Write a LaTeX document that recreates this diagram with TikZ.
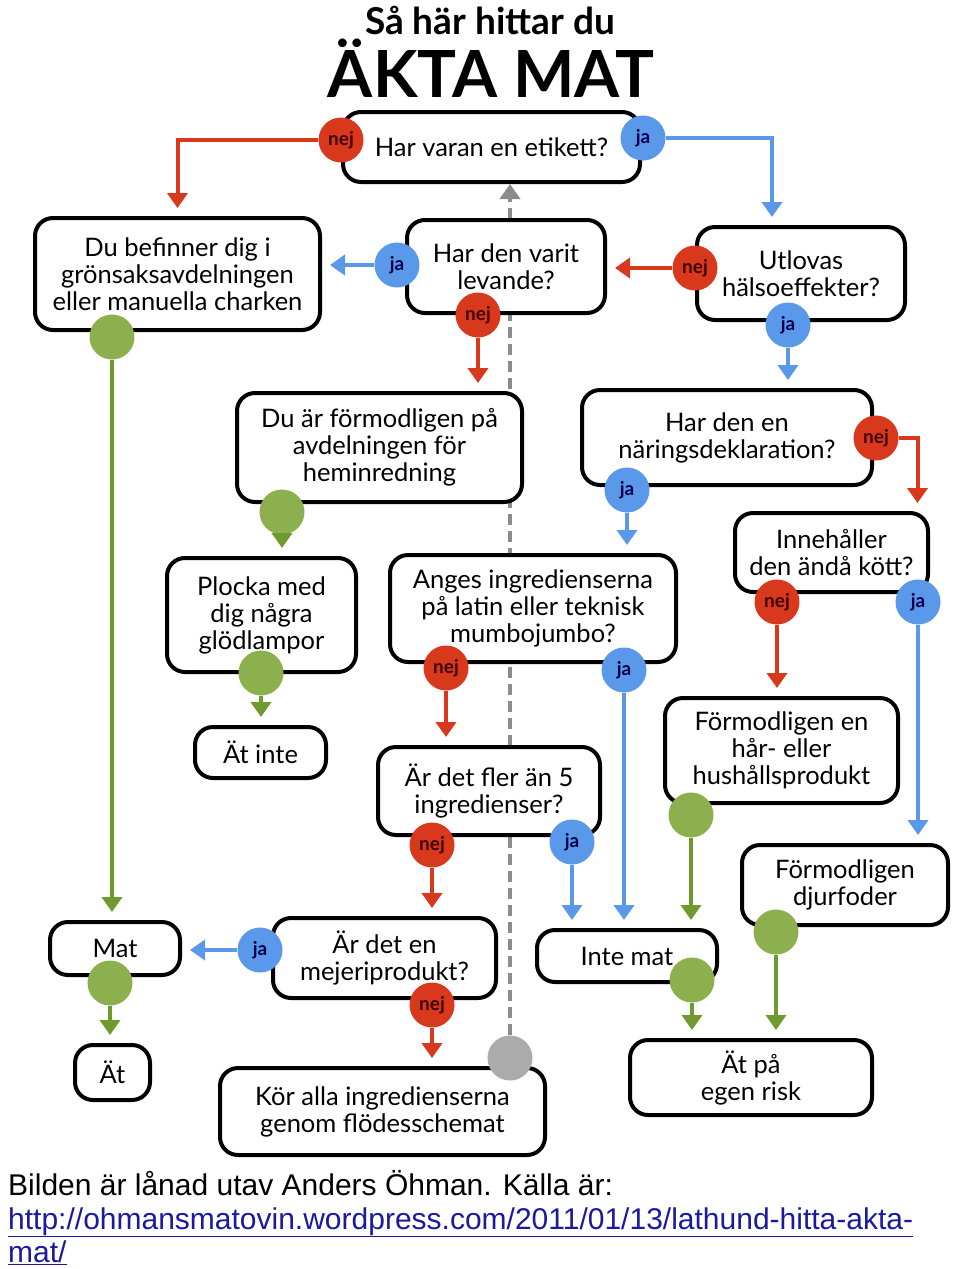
\documentclass[tikz,border=0pt]{standalone}
\usepackage{fontspec}
\setmainfont{Lato}
\newfontfamily\footfont{Liberation Sans}
\usetikzlibrary{arrows.meta, positioning, calc}

\definecolor{nejred}{HTML}{D8381C}
\definecolor{jablue}{HTML}{5A98EA}
\definecolor{dotgreen}{HTML}{8CB04E}
\definecolor{arrgreen}{HTML}{6F9A30}
\definecolor{linkblue}{HTML}{1A1AA0}

\pgfdeclarelayer{background}
\pgfsetlayers{background,main}

\begin{document}
\begin{tikzpicture}[x=1pt,y=-1pt,
    box/.style={draw=black, line width=4pt, rounded corners=18pt, fill=white,
      align=center, inner sep=0pt, font=\fontsize{25.5}{27}\selectfont},
    nejdot/.style={ellipse dot, fill=nejred, text=black!75!red},
    jadot/.style={ellipse dot, fill=jablue, text=blue!30!black},
    okdot/.style={ellipse dot, fill=dotgreen},
    ellipse dot/.style={circle, minimum size=45pt, inner sep=0pt,
      font=\bfseries\fontsize{19}{19}\selectfont},
    nejarr/.style={draw=nejred, line width=4pt, shorten >=8pt,
      -{Triangle[width=20pt,length=15pt]}},
    jaarr/.style={nejarr, draw=jablue},
    okarr/.style={nejarr, draw=arrgreen},
  ]
  \useasboundingbox (0,0) rectangle (960,1269);

  % rubrik
  \node[font=\bfseries\fontsize{37}{37}\selectfont] (rubrik1) at (490,20) {Så här hittar du};
  \node[font=\bfseries\fontsize{65}{65}\selectfont] (rubrik2) at (491,68) {ÄKTA MAT};

  % rutor
  \node[box, minimum width=297pt, minimum height=70pt] (etikett) at (491.5,147) {Har varan en etikett?};
  \node[box, minimum width=285pt, minimum height=112pt] (gron) at (177.5,274) {Du befinner dig i\\grönsaksavdelningen\\eller manuella charken};
  \node[box, minimum width=198pt, minimum height=93pt] (levande) at (506,266.5) {Har den varit\\levande?};
  \node[box, minimum width=208pt, minimum height=93pt] (halsa) at (801,273.5) {Utlovas\\hälsoeffekter?};
  \node[box, minimum width=285pt, minimum height=109pt] (hem) at (379.5,447.5) {Du är förmodligen på\\avdelningen för\\heminredning};
  \node[box, minimum width=290pt, minimum height=95pt] (naring) at (727,437.5) {Har den en\\näringsdeklaration?};
  \node[box, minimum width=189pt, minimum height=114pt] (plocka) at (261.5,615) {Plocka med\\dig några\\glödlampor};
  \node[box, minimum width=131pt, minimum height=51pt] (atinte) at (260.5,752.5) {Ät inte};
  \node[box, minimum width=286pt, minimum height=107pt] (anges) at (533,608.5) {Anges ingredienserna\\på latin eller teknisk\\mumbojumbo?};
  \node[box, minimum width=193pt, minimum height=79pt] (kott) at (831.5,552.5) {Innehåller\\den ändå kött?};
  \node[box, minimum width=233pt, minimum height=105pt] (hushall) at (781.5,750.5) {Förmodligen en\\hår- eller\\hushållsprodukt};
  \node[box, minimum width=222pt, minimum height=88pt] (fler) at (489,791) {Är det fler än 5\\ingredienser?};
  \node[box, minimum width=206pt, minimum height=80pt] (djur) at (845,885) {Förmodligen\\djurfoder};
  \node[box, minimum width=130pt, minimum height=53pt] (mat) at (115,948.5) {Mat};
  \node[box, minimum width=223pt, minimum height=80pt] (mejeri) at (384.5,958) {Är det en\\mejeriprodukt?};
  \node[box, minimum width=180pt, minimum height=52pt] (intemat) at (627,956) {Inte mat};
  \node[box, minimum width=75pt, minimum height=55pt] (at) at (112.5,1072.5) {Ät};
  \node[box, minimum width=325pt, minimum height=87pt] (kor) at (382.5,1111.5) {Kör alla ingredienserna\\genom flödesschemat};
  \node[box, minimum width=242pt, minimum height=75pt] (egen) at (751,1077.5) {Ät på\\egen risk};

  % svar
  \node[nejdot] (etikett-nej) at (341,140) {nej};
  \node[jadot] (etikett-ja) at (643,138) {ja};
  \node[okdot] (gron-ok) at (112,337) {};
  \node[jadot] (levande-ja) at (397,265) {ja};
  \node[nejdot] (levande-nej) at (478,315) {nej};
  \node[nejdot] (halsa-nej) at (695,268) {nej};
  \node[jadot] (halsa-ja) at (788,325) {ja};
  \node[okdot] (hem-ok) at (282,512) {};
  \node[nejdot] (naring-nej) at (876,438) {nej};
  \node[jadot] (naring-ja) at (627,490) {ja};
  \node[okdot] (plocka-ok) at (261,673) {};
  \node[nejdot] (anges-nej) at (446,668) {nej};
  \node[jadot] (anges-ja) at (624,670) {ja};
  \node[nejdot] (kott-nej) at (777,602) {nej};
  \node[jadot] (kott-ja) at (918,602) {ja};
  \node[okdot] (hushall-ok) at (691,815) {};
  \node[nejdot] (fler-nej) at (432,845) {nej};
  \node[jadot] (fler-ja) at (572,842) {ja};
  \node[okdot] (djur-ok) at (776,932) {};
  \node[okdot] (mat-ok) at (110,983) {};
  \node[jadot] (mejeri-ja) at (260,950) {ja};
  \node[nejdot] (mejeri-nej) at (432,1005) {nej};
  \node[okdot] (intemat-ok) at (692,980) {};
  \node[ellipse dot, fill=black!33] (kor-tillbaka) at (510,1058) {};

  \coordinate (halsa-in) at ([xshift=-29pt]halsa.north);
  \coordinate (kott-in) at ([xshift=86pt]kott.north);

  % pilar
  \draw[nejarr] (etikett-nej) -| (gron);
  \draw[jaarr] (etikett-ja) -| (halsa-in);
  \draw[jaarr] (levande-ja) -- (levande-ja -| gron.east);
  \draw[nejarr] (levande-nej) -- (levande-nej |- hem.north);
  \draw[nejarr] (halsa-nej) -- (halsa-nej -| levande.east);
  \draw[jaarr] (halsa-ja) -- (halsa-ja |- naring.north);
  \draw[okarr] (gron-ok) -- (gron-ok |- mat.north);
  \draw[okarr] (hem-ok) -- (hem-ok |- plocka.north);
  \draw[nejarr] (naring-nej) -| (kott-in);
  \draw[jaarr] (naring-ja) -- (naring-ja |- anges.north);
  \draw[okarr] (plocka-ok) -- (plocka-ok |- atinte.north);
  \draw[nejarr] (anges-nej) -- (anges-nej |- fler.north);
  \draw[jaarr] (anges-ja) -- (anges-ja |- intemat.north);
  \draw[nejarr] (kott-nej) -- (kott-nej |- hushall.north);
  \draw[jaarr] (kott-ja) -- (kott-ja |- djur.north);
  \draw[okarr] (hushall-ok) -- (hushall-ok |- intemat.north);
  \draw[nejarr] (fler-nej) -- (fler-nej |- mejeri.north);
  \draw[jaarr] (fler-ja) -- (fler-ja |- intemat.north);
  \draw[okarr] (djur-ok) -- (djur-ok |- egen.north);
  \draw[okarr] (mat-ok) -- (mat-ok |- at.north);
  \draw[jaarr] (mejeri-ja) -- (mejeri-ja -| mat.east);
  \draw[nejarr] (mejeri-nej) -- (mejeri-nej |- kor.north);
  \draw[okarr] (intemat-ok) -- (intemat-ok |- egen.north);

  % streckad linje tillbaka till start
  \begin{pgfonlayer}{background}
    \draw[black!45, line width=4pt, dash pattern=on 11pt off 6pt, shorten >=2pt,
      -{Triangle[width=20pt,length=15pt,sep=-2pt]}] (kor-tillbaka) -- (kor-tillbaka |- etikett.south);
  \end{pgfonlayer}

  % kalla
  \node[anchor=base west, inner sep=0pt, font=\footfont\fontsize{30}{34}\selectfont] (kalla1) at (8,1195) {Bilden är lånad utav Anders Öhman. Källa är:};
  \node[anchor=base west, inner sep=0pt, text=linkblue, font=\footfont\fontsize{30}{34}\selectfont] (kalla2) at (8,1229) {\underline{http://ohmansmatovin.wordpress.com/2011/01/13/lathund-hitta-akta-}};
  \node[anchor=base west, inner sep=0pt, text=linkblue, font=\footfont\fontsize{30}{34}\selectfont] (kalla3) at (8,1262) {\underline{mat/}};
\end{tikzpicture}
\end{document}
